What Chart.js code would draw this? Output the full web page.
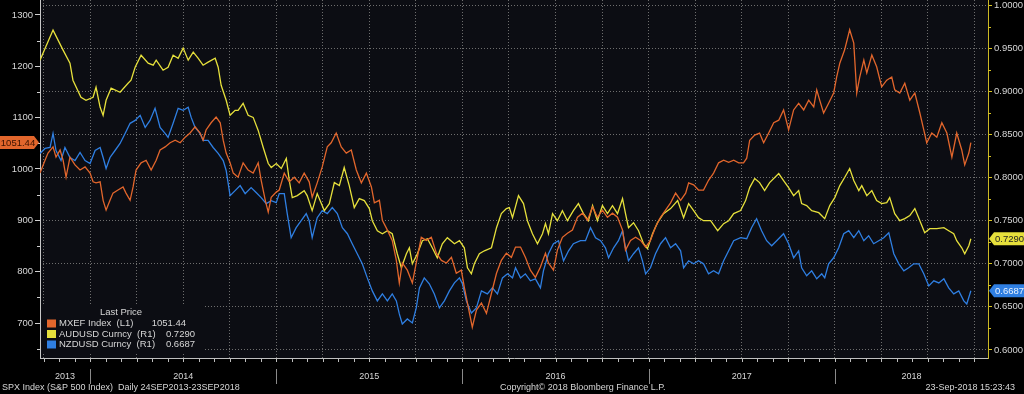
<!DOCTYPE html>
<html><head><meta charset="utf-8">
<script src="https://cdn.jsdelivr.net/npm/chart.js@4.4.1/dist/chart.umd.min.js"></script>
<style>html,body{margin:0;padding:0;background:#000;overflow:hidden}canvas{display:block}</style>
</head><body>
<canvas id="c" width="1024" height="394"></canvas>
<script>
// ---------------- data (decimal years / values) ----------------
const mxefDates = [2013.731,2013.758,2013.774,2013.801,2013.817,2013.839,2013.855,2013.871,2013.892,2013.919,2013.946,2013.973,2014.000,2014.016,2014.032,2014.054,2014.070,2014.086,2014.107,2014.123,2014.150,2014.177,2014.193,2014.215,2014.231,2014.247,2014.274,2014.301,2014.328,2014.355,2014.376,2014.403,2014.430,2014.457,2014.484,2014.511,2014.537,2014.564,2014.591,2014.607,2014.623,2014.650,2014.677,2014.699,2014.715,2014.731,2014.752,2014.769,2014.795,2014.822,2014.849,2014.876,2014.903,2014.919,2014.941,2014.957,2014.973,2015.000,2015.016,2015.043,2015.070,2015.097,2015.123,2015.150,2015.177,2015.193,2015.220,2015.247,2015.274,2015.295,2015.322,2015.349,2015.376,2015.403,2015.430,2015.457,2015.484,2015.511,2015.527,2015.554,2015.570,2015.597,2015.623,2015.645,2015.661,2015.677,2015.704,2015.731,2015.752,2015.779,2015.806,2015.833,2015.860,2015.887,2015.914,2015.941,2015.967,2015.994,2016.010,2016.027,2016.053,2016.075,2016.102,2016.129,2016.156,2016.183,2016.209,2016.236,2016.263,2016.285,2016.312,2016.338,2016.365,2016.392,2016.419,2016.446,2016.462,2016.489,2016.510,2016.537,2016.564,2016.591,2016.618,2016.645,2016.672,2016.699,2016.725,2016.752,2016.779,2016.806,2016.833,2016.860,2016.876,2016.903,2016.930,2016.957,2016.984,2017.010,2017.037,2017.064,2017.091,2017.118,2017.145,2017.172,2017.199,2017.215,2017.242,2017.268,2017.295,2017.322,2017.349,2017.376,2017.403,2017.430,2017.457,2017.484,2017.510,2017.527,2017.543,2017.570,2017.596,2017.618,2017.645,2017.672,2017.699,2017.725,2017.752,2017.779,2017.806,2017.833,2017.860,2017.887,2017.903,2017.919,2017.940,2017.967,2017.994,2018.010,2018.027,2018.053,2018.080,2018.102,2018.118,2018.134,2018.156,2018.172,2018.199,2018.225,2018.252,2018.279,2018.306,2018.322,2018.349,2018.376,2018.403,2018.430,2018.457,2018.478,2018.494,2018.521,2018.548,2018.575,2018.602,2018.629,2018.655,2018.682,2018.698,2018.720,2018.731];
const mxefValues = [992,1017,1031,1043,1023,1037,1017,984,1023,1008,998,1004,992,975,973,975,939,920,939,953,959,965,953,939,965,998,1012,1017,998,1017,1037,1043,1051,1056,1051,1062,1070,1082,1070,1056,1076,1090,1101,1090,1056,1031,1012,992,984,1012,998,992,1012,978,939,916,945,955,959,992,975,984,973,992,975,945,973,1004,1043,1051,1070,1043,1031,1037,998,973,992,965,934,939,900,881,861,822,778,817,803,778,817,867,861,867,836,822,817,828,797,803,770,739,692,725,739,719,758,797,822,836,828,848,848,828,803,789,809,836,817,803,842,867,875,881,906,914,900,926,906,920,906,914,906,881,842,861,867,861,848,861,887,906,920,934,953,939,953,973,969,959,959,978,992,1012,1017,1013,1017,1012,1012,1021,1056,1066,1070,1051,1070,1090,1095,1115,1076,1115,1128,1115,1134,1121,1154,1134,1109,1128,1148,1179,1206,1232,1271,1245,1148,1179,1212,1187,1222,1199,1160,1173,1179,1154,1148,1167,1134,1148,1109,1076,1051,1070,1062,1090,1070,1023,1070,1037,1008,1031,1051.44];

const audDates = [2013.731,2013.801,2013.855,2013.892,2013.908,2013.951,2013.978,2014.016,2014.032,2014.054,2014.070,2014.086,2014.113,2014.161,2014.204,2014.220,2014.242,2014.274,2014.312,2014.339,2014.355,2014.392,2014.419,2014.446,2014.473,2014.500,2014.527,2014.554,2014.580,2014.607,2014.634,2014.672,2014.688,2014.704,2014.731,2014.752,2014.779,2014.795,2014.822,2014.849,2014.876,2014.903,2014.930,2014.957,2014.973,2015.000,2015.027,2015.054,2015.070,2015.086,2015.113,2015.150,2015.166,2015.193,2015.220,2015.258,2015.285,2015.312,2015.339,2015.365,2015.392,2015.419,2015.446,2015.473,2015.500,2015.516,2015.543,2015.570,2015.597,2015.623,2015.650,2015.672,2015.699,2015.715,2015.731,2015.758,2015.785,2015.812,2015.838,2015.865,2015.892,2015.919,2015.957,2015.984,2016.010,2016.027,2016.048,2016.064,2016.091,2016.118,2016.156,2016.183,2016.209,2016.236,2016.252,2016.269,2016.301,2016.328,2016.349,2016.376,2016.403,2016.430,2016.446,2016.462,2016.484,2016.510,2016.537,2016.564,2016.596,2016.623,2016.650,2016.677,2016.699,2016.725,2016.752,2016.779,2016.806,2016.833,2016.860,2016.876,2016.892,2016.919,2016.946,2016.973,2016.994,2017.021,2017.048,2017.080,2017.118,2017.156,2017.188,2017.215,2017.242,2017.268,2017.295,2017.333,2017.371,2017.403,2017.430,2017.457,2017.494,2017.521,2017.543,2017.570,2017.596,2017.623,2017.650,2017.699,2017.725,2017.752,2017.779,2017.806,2017.822,2017.849,2017.876,2017.914,2017.946,2017.973,2018.000,2018.027,2018.053,2018.080,2018.102,2018.129,2018.145,2018.172,2018.199,2018.225,2018.252,2018.279,2018.295,2018.322,2018.349,2018.376,2018.403,2018.430,2018.457,2018.483,2018.510,2018.548,2018.586,2018.612,2018.639,2018.655,2018.682,2018.698,2018.720,2018.731];
const audValues = [0.9360,0.9709,0.9477,0.9326,0.9128,0.8930,0.8895,0.8930,0.9046,0.8814,0.8721,0.8895,0.9035,0.8988,0.9093,0.9128,0.9279,0.9418,0.9326,0.9302,0.9360,0.9244,0.9279,0.9418,0.9383,0.9500,0.9360,0.9453,0.9383,0.9302,0.9337,0.9383,0.9279,0.9069,0.8895,0.8721,0.8779,0.8779,0.8860,0.8721,0.8697,0.8546,0.8348,0.8162,0.8116,0.8162,0.8104,0.8220,0.7965,0.7767,0.7790,0.7848,0.7790,0.7616,0.7813,0.7616,0.7697,0.7941,0.7906,0.8116,0.7906,0.7651,0.7755,0.7732,0.7639,0.7499,0.7383,0.7348,0.7383,0.7348,0.7116,0.6953,0.7116,0.7185,0.6999,0.7116,0.7267,0.7290,0.7185,0.7069,0.7232,0.7302,0.7232,0.7267,0.7185,0.6953,0.6883,0.6999,0.7116,0.7150,0.7185,0.7418,0.7581,0.7639,0.7651,0.7534,0.7790,0.7697,0.7499,0.7348,0.7232,0.7348,0.7465,0.7348,0.7581,0.7499,0.7616,0.7499,0.7616,0.7697,0.7581,0.7499,0.7674,0.7499,0.7674,0.7581,0.7674,0.7581,0.7755,0.7581,0.7418,0.7476,0.7383,0.7232,0.7174,0.7348,0.7476,0.7581,0.7639,0.7732,0.7534,0.7697,0.7616,0.7534,0.7499,0.7499,0.7383,0.7465,0.7499,0.7581,0.7616,0.7732,0.7883,0.7988,0.7941,0.7848,0.7941,0.8046,0.7965,0.7883,0.7790,0.7848,0.7697,0.7674,0.7616,0.7592,0.7523,0.7674,0.7767,0.7906,0.8000,0.8104,0.7965,0.7848,0.7906,0.7790,0.7848,0.7732,0.7697,0.7709,0.7767,0.7581,0.7499,0.7523,0.7558,0.7639,0.7499,0.7360,0.7406,0.7406,0.7418,0.7383,0.7348,0.7267,0.7185,0.7116,0.7209,0.7290];

const nzdDates = [2013.731,2013.758,2013.785,2013.801,2013.817,2013.844,2013.865,2013.892,2013.919,2013.946,2013.973,2014.000,2014.027,2014.054,2014.070,2014.086,2014.107,2014.134,2014.161,2014.188,2014.215,2014.242,2014.269,2014.296,2014.322,2014.349,2014.376,2014.403,2014.419,2014.446,2014.473,2014.500,2014.527,2014.543,2014.564,2014.591,2014.607,2014.634,2014.661,2014.688,2014.715,2014.731,2014.752,2014.779,2014.806,2014.833,2014.865,2014.892,2014.919,2014.946,2014.973,2015.000,2015.016,2015.043,2015.059,2015.080,2015.107,2015.134,2015.161,2015.177,2015.193,2015.220,2015.247,2015.274,2015.301,2015.328,2015.355,2015.382,2015.408,2015.435,2015.462,2015.489,2015.516,2015.543,2015.570,2015.597,2015.623,2015.645,2015.661,2015.677,2015.704,2015.731,2015.752,2015.769,2015.795,2015.822,2015.849,2015.876,2015.903,2015.930,2015.957,2015.984,2016.000,2016.021,2016.048,2016.075,2016.102,2016.134,2016.161,2016.188,2016.215,2016.242,2016.269,2016.285,2016.312,2016.338,2016.365,2016.392,2016.419,2016.435,2016.462,2016.489,2016.516,2016.543,2016.570,2016.596,2016.634,2016.661,2016.688,2016.715,2016.742,2016.768,2016.785,2016.812,2016.838,2016.860,2016.876,2016.892,2016.919,2016.946,2016.967,2016.984,2017.010,2017.037,2017.064,2017.091,2017.118,2017.145,2017.172,2017.188,2017.215,2017.242,2017.268,2017.295,2017.322,2017.349,2017.376,2017.403,2017.430,2017.457,2017.494,2017.527,2017.553,2017.580,2017.607,2017.634,2017.661,2017.688,2017.725,2017.752,2017.779,2017.806,2017.822,2017.849,2017.876,2017.903,2017.930,2017.946,2017.967,2017.994,2018.021,2018.048,2018.075,2018.102,2018.129,2018.156,2018.182,2018.209,2018.236,2018.263,2018.290,2018.317,2018.344,2018.371,2018.397,2018.424,2018.451,2018.478,2018.505,2018.532,2018.559,2018.586,2018.612,2018.639,2018.666,2018.693,2018.709,2018.731];
const nzdValues = [0.8279,0.8337,0.8348,0.8511,0.8313,0.8197,0.8348,0.8232,0.8197,0.8290,0.8197,0.8162,0.8313,0.8348,0.8232,0.8104,0.8232,0.8313,0.8395,0.8511,0.8628,0.8662,0.8721,0.8581,0.8662,0.8802,0.8581,0.8511,0.8465,0.8628,0.8802,0.8779,0.8814,0.8697,0.8581,0.8511,0.8430,0.8430,0.8348,0.8279,0.8197,0.8081,0.7790,0.7848,0.7906,0.7813,0.7883,0.7825,0.7767,0.7697,0.7732,0.7709,0.7813,0.7813,0.7581,0.7302,0.7418,0.7499,0.7581,0.7499,0.7302,0.7534,0.7616,0.7581,0.7651,0.7581,0.7418,0.7348,0.7232,0.7116,0.6999,0.6836,0.6685,0.6569,0.6650,0.6569,0.6650,0.6569,0.6418,0.6302,0.6360,0.6313,0.6488,0.6720,0.6836,0.6767,0.6650,0.6488,0.6569,0.6685,0.6778,0.6836,0.6767,0.6569,0.6429,0.6488,0.6685,0.6650,0.6720,0.6650,0.6836,0.6883,0.6836,0.6953,0.6836,0.6883,0.6802,0.6825,0.6720,0.6918,0.7116,0.7232,0.7267,0.7034,0.7150,0.7232,0.7267,0.7267,0.7418,0.7302,0.7267,0.7185,0.7069,0.7185,0.7267,0.7383,0.7185,0.7034,0.7116,0.7185,0.7034,0.6883,0.6953,0.7116,0.7232,0.7302,0.7185,0.7232,0.7150,0.6953,0.7034,0.6999,0.7034,0.6999,0.6883,0.6918,0.6883,0.7034,0.7150,0.7267,0.7302,0.7290,0.7418,0.7523,0.7383,0.7267,0.7209,0.7267,0.7348,0.7232,0.7069,0.7150,0.6953,0.6860,0.6918,0.6825,0.6883,0.6836,0.6999,0.7069,0.7185,0.7348,0.7383,0.7302,0.7383,0.7267,0.7325,0.7232,0.7267,0.7302,0.7360,0.7116,0.6999,0.6918,0.6953,0.6999,0.6999,0.6883,0.6743,0.6802,0.6778,0.6825,0.6720,0.6650,0.6685,0.6569,0.6534,0.6687];

const seriesNames = ['MXEF Index  (L1)', 'AUDUSD Curncy  (R1)', 'NZDUSD Curncy  (R1)'];
const leftTicks = [700, 800, 900, 1000, 1100, 1200, 1300];
const leftMinorTicks = [650, 750, 850, 950, 1050, 1150, 1250];
const rightTicks = [0.60, 0.65, 0.70, 0.75, 0.80, 0.85, 0.90, 0.95, 1.00];
const rightMinorTicks = [0.625, 0.675, 0.725, 0.775, 0.825, 0.875, 0.925, 0.975];
const quarterTicks = [2013.75,2014,2014.25,2014.5,2014.75,2015,2015.25,2015.5,2015.75,2016,2016.25,2016.5,2016.75,2017,2017.25,2017.5,2017.75,2018,2018.25,2018.5,2018.75];
const years = ['2013','2014','2015','2016','2017','2018'];
const legendTitle = 'Last Price';
const footerLeft = 'SPX Index (S&P 500 Index)  Daily 24SEP2013-23SEP2018';
const footerMid = 'Copyright\u00A9 2018 Bloomberg Finance L.P.';
const footerRight = '23-Sep-2018 15:23:43';

// ---------------- styling ----------------
const FONT = '"Liberation Sans", Arial, sans-serif';
const COLORS = ['#e2662c', '#e6e03c', '#2f7fe2'];
const PLOT_BG = '#0c0d13';
const GRID = '#6e6e6e';
const TXT = '#d6d6d6';

const pts = (xs, ys) => xs.map((x, i) => ({x: x, y: ys[i]}));
const lastOf = a => a[a.length - 1];

const deco = {
  id: 'deco',
  beforeDraw(chart) {
    const {ctx, chartArea: a} = chart;
    ctx.save();
    ctx.fillStyle = '#000';
    ctx.fillRect(0, 0, chart.width, chart.height);
    ctx.fillStyle = PLOT_BG;
    ctx.fillRect(a.left, a.top, a.right - a.left, a.bottom - a.top);
    ctx.restore();
  },
  afterDraw(chart) {
    const {ctx, chartArea: a, scales} = chart;
    const xs = scales.x, yl = scales.yL, yr = scales.yR;
    ctx.save();
    ctx.lineWidth = 1;
    ctx.strokeStyle = '#cfcfcf';
    leftMinorTicks.forEach(v => {
      if (v < yl.min || v > yl.max) return;
      const y = Math.round(yl.getPixelForValue(v)) + 0.5;
      ctx.beginPath(); ctx.moveTo(a.left - 3, y); ctx.lineTo(a.left, y); ctx.stroke();
    });
    ctx.strokeStyle = '#d8c424';
    rightMinorTicks.forEach(v => {
      const y = Math.round(yr.getPixelForValue(v)) + 0.5;
      ctx.beginPath(); ctx.moveTo(a.right, y); ctx.lineTo(a.right + 3, y); ctx.stroke();
    });
    ctx.strokeStyle = '#bdbdbd';
    for (let yy = 2013; yy <= 2018; yy++) {
      for (let m = 0; m < 12; m++) {
        const v = yy + m / 12;
        if (v < xs.min || v > xs.max) continue;
        const x = Math.round(xs.getPixelForValue(v)) + 0.5;
        ctx.beginPath(); ctx.moveTo(x, a.bottom); ctx.lineTo(x, a.bottom + 4); ctx.stroke();
      }
    }
    ctx.font = '9px ' + FONT;
    ctx.fillStyle = TXT;
    ctx.textAlign = 'center';
    ctx.textBaseline = 'middle';
    years.forEach(ys => {
      const Y = +ys;
      const s = Math.max(Y, xs.min), e = Math.min(Y + 1, xs.max);
      const cx = (xs.getPixelForValue(s) + xs.getPixelForValue(e)) / 2;
      ctx.fillText(ys, cx, 377);
      if (Y > xs.min && Y < xs.max) {
        const x = Math.round(xs.getPixelForValue(Y)) + 0.5;
        ctx.strokeStyle = '#8a8a8a';
        ctx.beginPath(); ctx.moveTo(x, 369); ctx.lineTo(x, 384); ctx.stroke();
      }
    });
    ctx.textAlign = 'left';
    ctx.fillText(footerLeft, 2, 388);
    ctx.fillText(footerMid, 500, 388);
    ctx.textAlign = 'right';
    ctx.fillText(footerRight, 1015, 388);

    ctx.fillStyle = PLOT_BG;
    ctx.fillRect(41, 306, 162, 46);
    ctx.font = '9.5px ' + FONT;
    ctx.fillStyle = TXT;
    ctx.textAlign = 'center';
    ctx.fillText(legendTitle, 121, 312.5);
    const lastVals = [lastOf(mxefValues).toFixed(2), lastOf(audValues).toFixed(4), lastOf(nzdValues).toFixed(4)];
    const rowsY = [323.5, 334, 344.5];
    const valRight = [186, 195, 195];
    seriesNames.forEach((n, i) => {
      ctx.fillStyle = COLORS[i];
      ctx.fillRect(47, rowsY[i] - 4, 9, 8);
      ctx.fillStyle = TXT;
      ctx.textAlign = 'left';
      ctx.fillText(n, 59, rowsY[i]);
      ctx.textAlign = 'right';
      ctx.fillText(lastVals[i], valRight[i], rowsY[i]);
    });

    const tagL = (y, txt, bg, fg) => {
      ctx.fillStyle = bg;
      ctx.beginPath();
      ctx.moveTo(0, y - 6.5); ctx.lineTo(34, y - 6.5); ctx.lineTo(39, y); ctx.lineTo(34, y + 6.5); ctx.lineTo(0, y + 6.5);
      ctx.closePath(); ctx.fill();
      ctx.fillStyle = fg; ctx.textAlign = 'center';
      ctx.fillText(txt, 18, y + 0.5);
    };
    const tagR = (y, txt, bg, fg) => {
      ctx.fillStyle = bg;
      ctx.beginPath();
      ctx.moveTo(a.right + 1, y); ctx.lineTo(a.right + 6, y - 6.5); ctx.lineTo(1024, y - 6.5); ctx.lineTo(1024, y + 6.5); ctx.lineTo(a.right + 6, y + 6.5);
      ctx.closePath(); ctx.fill();
      ctx.fillStyle = fg; ctx.textAlign = 'left';
      ctx.fillText(txt, a.right + 7, y + 0.5);
    };
    tagL(yl.getPixelForValue(lastOf(mxefValues)), lastVals[0], COLORS[0], '#3a1200');
    tagR(yr.getPixelForValue(lastOf(audValues)), lastVals[1], COLORS[1], '#222');
    tagR(yr.getPixelForValue(lastOf(nzdValues)), lastVals[2], COLORS[2], '#e8f2ff');
    ctx.restore();
  }
};

const ds = (label, xs, ys, axis, color) => ({
  label: label, data: pts(xs, ys), yAxisID: axis,
  borderColor: color, borderWidth: 1.3, pointRadius: 0, tension: 0, fill: false
});

new Chart(document.getElementById('c'), {
  type: 'line',
  data: {
    datasets: [
      ds(seriesNames[0], mxefDates, mxefValues, 'yL', COLORS[0]),
      ds(seriesNames[1], audDates, audValues, 'yR', COLORS[1]),
      ds(seriesNames[2], nzdDates, nzdValues, 'yR', COLORS[2])
    ]
  },
  options: {
    responsive: false,
    animation: false,
    events: [],
    layout: {padding: 0, autoPadding: false},
    plugins: {legend: {display: false}, tooltip: {enabled: false}},
    scales: {
      x: {
        type: 'linear', position: 'bottom', min: 2013.731, max: 2018.823,
        afterBuildTicks: s => { s.ticks = quarterTicks.map(v => ({value: v})); },
        afterFit: s => { s.height = 36; s.paddingLeft = 0; s.paddingRight = 0; },
        ticks: {display: false},
        grid: {color: GRID, lineWidth: 1, drawTicks: false},
        border: {display: true, color: '#bfbfbf', width: 1, dash: [1, 2]}
      },
      yL: {
        type: 'linear', position: 'left', min: 632, max: 1329,
        afterBuildTicks: s => { s.ticks = leftTicks.map(v => ({value: v})); },
        afterFit: s => { s.width = 40; s.paddingTop = 0; s.paddingBottom = 0; },
        ticks: {color: TXT, font: {size: 9.5, family: FONT}, padding: 2, callback: v => String(v)},
        grid: {drawOnChartArea: false, tickLength: 5, tickColor: '#d0d0d0', color: '#d0d0d0'},
        border: {display: true, color: '#c8c8c8', width: 1}
      },
      yR: {
        type: 'linear', position: 'right', min: 0.5907, max: 1.0058,
        afterBuildTicks: s => { s.ticks = rightTicks.map(v => ({value: v})); },
        afterFit: s => { s.width = 36; s.paddingTop = 0; s.paddingBottom = 0; },
        ticks: {color: TXT, font: {size: 9.5, family: FONT}, padding: 2, callback: v => Number(v).toFixed(4)},
        grid: {drawOnChartArea: true, color: GRID, tickLength: 4, tickColor: '#d8c424', tickBorderDash: []},
        border: {display: true, color: '#cbb824', width: 1, dash: [1, 2]}
      }
    }
  },
  plugins: [deco]
});
</script>
</body></html>
